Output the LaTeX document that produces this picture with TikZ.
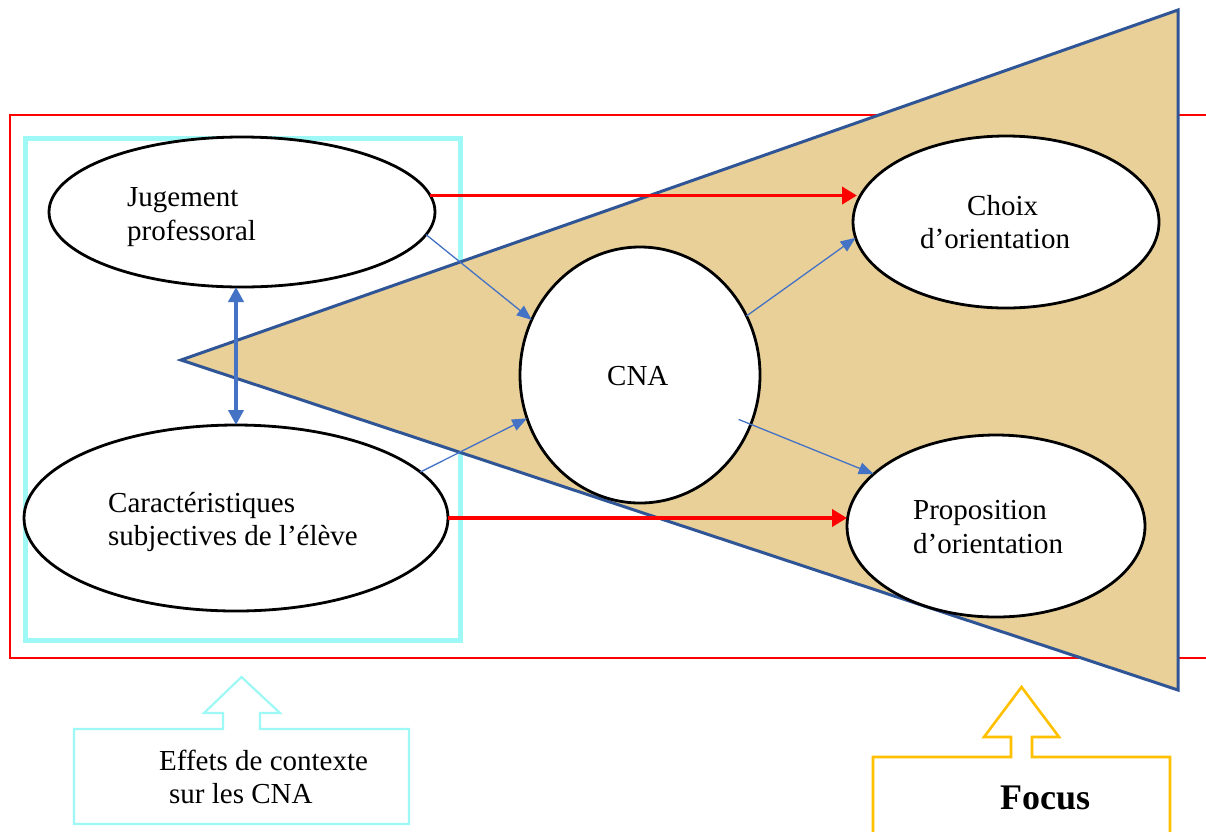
\documentclass[tikz,border=0pt]{standalone}
\usepackage{fontspec}
\setmainfont{Liberation Serif}
\usetikzlibrary{shapes.geometric,arrows.meta,calc}
\definecolor{cyanline}{RGB}{158,248,245}
\definecolor{tribord}{RGB}{47,85,151}
\definecolor{papyrus}{RGB}{232,208,152}
\definecolor{arrblue}{RGB}{68,114,196}
\definecolor{focusyel}{RGB}{255,192,0}
\tikzset{
  oval/.style={ellipse, draw=black, line width=2.8pt, fill=white, inner sep=0pt, outer sep=0pt},
  lbl/.style={anchor=base west, inner sep=0pt, font=\fontsize{29}{34}\selectfont},
  redarr/.style={draw=red, line width=3.8pt, -{Triangle[length=15pt,width=17pt]}},
  bluearr/.style={draw=arrblue, line width=1.3pt, -{Triangle[length=15pt,width=12pt]}},
  dblarr/.style={draw=arrblue, line width=4.3pt, {Triangle[length=15pt,width=15pt]}-{Triangle[length=15pt,width=15pt]}},
  callout/.style={line width=2.2pt, fill=white, line join=miter}
}
\begin{document}
\begin{tikzpicture}[x=1pt,y=-1pt]
\useasboundingbox (0,0) rectangle (1206,831);
\fill[white] (0,0) rectangle (1206,831);
% outer red frame
\draw[red, line width=1.3pt] (10,115) rectangle (1240,658);
% cyan frame
\draw[cyanline, line width=5pt] (25,138) rectangle (460,640);
% funnel triangle
\draw[tribord, line width=3pt, fill=papyrus, line join=miter] (181,360) -- (1178,10) -- (1178,690) -- cycle;
% ellipses
\node[oval, minimum width=386pt, minimum height=150pt] (jug) at (242,212) {};
\node[oval, minimum width=424pt, minimum height=186pt] (car) at (236,518) {};
\node[oval, minimum width=240pt, minimum height=256pt] (cna) at (640,375) {};
\node[oval, minimum width=306pt, minimum height=172pt] (choix) at (1006,222) {};
\node[oval, minimum width=298pt, minimum height=182pt] (prop) at (996,526) {};
% labels
\node[lbl] (jugA) at (127,206) {Jugement};
\node[lbl] (jugB) at (127,240) {professoral};
\node[lbl] (carA) at (108,512) {Caractéristiques};
\node[lbl] (carB) at (108,545) {subjectives de l’élève};
\node[lbl] (cnaT) at (607,385) {CNA};
\node[lbl] (choA) at (967,215) {Choix};
\node[lbl] (choB) at (920,248) {d’orientation};
\node[lbl] (proA) at (913,519) {Proposition};
\node[lbl] (proB) at (913,553) {d’orientation};
% connectors
\draw[redarr, shorten >=-4pt] (jug.5.2) -- (jug.5.2 -| choix.west);
\draw[redarr] (car.east) -- (car.east -| prop.west);
\draw[bluearr] (jug.-7.85) -- (cna.153.2);
\draw[bluearr] (car.14.9) -- (cna.201);
\draw[bluearr] (cna.29.5) -- (choix.186.9);
\draw[bluearr, shorten <=-13pt] (cna.-24.7) -- (prop.157.6);
\draw[dblarr] (car.north |- jug.south) -- (car.north);
% callouts
\draw[callout, draw=cyanline] (74,729) -- (223,729) -- (223,713) -- (204,713) -- (241.5,677) -- (280,713) -- (260,713) -- (260,729) -- (409,729) -- (409,824) -- (74,824) -- cycle;
\node[lbl] (effA) at (159,770) {Effets de contexte};
\node[lbl] (effB) at (169,803) {sur les CNA};
\draw[callout, draw=focusyel, line width=2.6pt] (873,757) -- (1011,757) -- (1011,737) -- (984,737) -- (1021.5,687) -- (1059,737) -- (1032,737) -- (1032,757) -- (1170,757) -- (1170,850) -- (873,850) -- cycle;
\node[anchor=base west, inner sep=0pt, font=\fontsize{36}{40}\selectfont\bfseries] (focus) at (1000,809) {Focus};
\end{tikzpicture}
\end{document}
